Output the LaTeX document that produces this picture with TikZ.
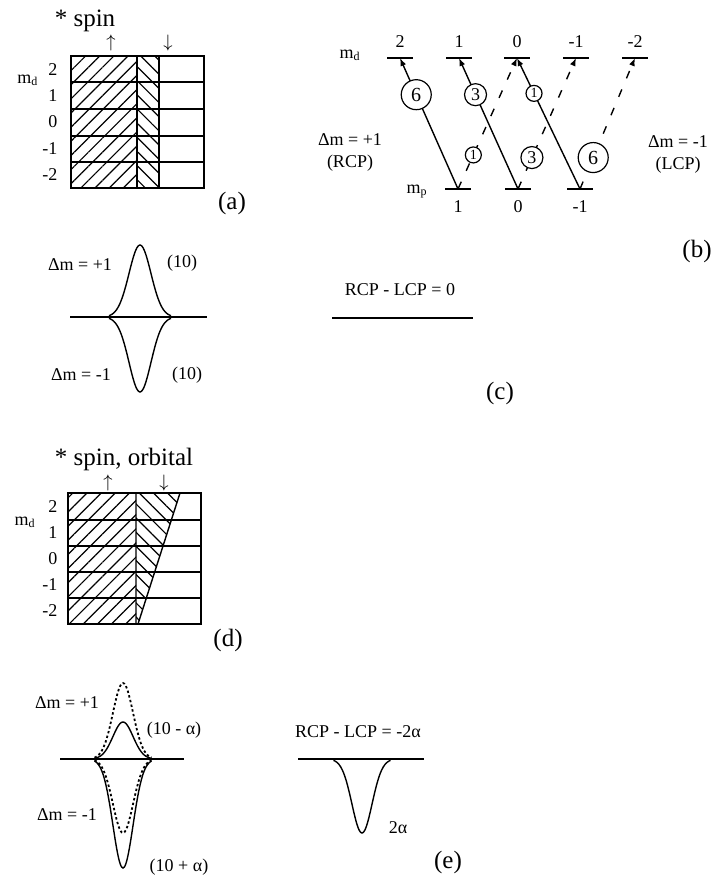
\documentclass[tikz,border=0pt]{standalone}
\usepackage{fontspec}
\setmainfont{Liberation Serif}
\usetikzlibrary{arrows.meta, positioning, patterns.meta}

\begin{document}
\begin{tikzpicture}[
    x = 0.5pt, y = -0.5pt,
    line width = 0.7pt,
    lbl/.style = {font = \fontsize{9}{11}\selectfont, inner sep = 1pt},
    ttl/.style = {font = \fontsize{12.5}{15}\selectfont, inner sep = 0pt},
    num/.style = {font = \fontsize{9}{11}\selectfont, anchor = east, inner sep = 1pt},
    lvl/.style = {minimum width = 12pt, minimum height = 0pt, inner sep = 0pt},
    upspin/.style = {pattern = {Lines[angle = 45, distance = 5pt, line width = 0.6pt]}},
    dnspin/.style = {pattern = {Lines[angle = -45, distance = 5pt, line width = 0.6pt]}},
    tr/.style = {-{Latex[length = 4pt, width = 3pt]}},
    lcp/.style = {tr, dash pattern = on 4pt off 6pt},
    ring/.style = {circle, draw, solid, fill = white, inner sep = 0pt, line width = 0.6pt},
    big/.style = {ring, minimum size = 15pt, font = \fontsize{10}{10}\selectfont},
    mid/.style = {ring, minimum size = 11pt, font = \fontsize{9}{9}\selectfont},
    small/.style = {ring, minimum size = 8pt, font = \fontsize{7}{7}\selectfont},
    dots/.style = {dash pattern = on 1.2pt off 1.2pt, line width = 0.9pt},
  ]
  \useasboundingbox (0,0) rectangle (726,877);

  % (a) spin only
  \node[ttl, anchor = base] (ta) at (85,27) {* spin};
  \node[lbl] (ua) at (111,43) {$\uparrow$};
  \node[lbl] (da) at (168,43) {$\downarrow$};
  \node[lbl] (mda) at (28,80) {m\textsubscript{d}};
  \path[upspin] (71,56) rectangle (137,188);
  \path[dnspin] (137,56) rectangle (159,188);
  \draw (71,56) rectangle (204,188);
  \foreach \y in {82,109,136,162} \draw (71,\y) -- (204,\y);
  \draw (137,56) -- (137,188) (159,56) -- (159,188);
  \foreach \m [count=\i] in {2,1,0,-1,-2}
    \node[num] (na\i) at (60,{56+26.4*(\i-0.5)}) {\m};
  \node[ttl] (pa) at (232,203) {(a)};

  % (b) transitions
  \foreach \n/\x/\m in {d2/400/2, d1/459/1, d0/517/0, dn1/576/-1, dn2/635/-2} {
    \node[lvl] (\n) at (\x,58) {};
    \node[lbl] (l\n) at (\x,42) {\m};
  }
  \foreach \n/\x/\m in {p1/458/1, p0/518/0, pn1/580/-1} {
    \node[lvl] (\n) at (\x,189) {};
    \node[lbl] (l\n) at (\x,207) {\m};
  }
  \foreach \n in {d2,d1,d0,dn1,dn2,p1,p0,pn1} \draw (\n.west) -- (\n.east);
  \node[lbl] (mdb) at (350,55) {m\textsubscript{d}};
  \node[lbl] (mpb) at (417,192) {m\textsubscript{p}};
  \draw[tr] (p1.center) -- node[big, pos = .72] {6} (d2.center);
  \draw[tr] (p0.center) -- node[mid, pos = .72] {3} (d1.center);
  \draw[tr] (pn1.center) -- node[small, pos = .73] {1} (d0.center);
  \draw[lcp] (p1.center) -- node[small, pos = .26] {1} (d0.center);
  \draw[lcp] (p0.center) -- node[mid, pos = .24] {3} (dn1.center);
  \draw[lcp] (pn1.center) -- node[big, pos = .24] {6} (dn2.center);
  \node[lbl] (rcpm) at (350,140) {Δm = +1};
  \node[lbl, below = 2pt of rcpm] (rcp) {(RCP)};
  \node[lbl] (lcpm) at (678,142) {Δm = -1};
  \node[lbl, below = 2pt of lcpm] (lcpb) {(LCP)};
  \node[ttl] (pb) at (697,251) {(b)};

  % (c) spectra, spin only
  \draw (70,317) -- (207,317);
  \draw plot[domain = -31:31, samples = 41, smooth] ({140+\x},{317-72*exp(-(\x)*(\x)/240)});
  \draw plot[domain = -31:31, samples = 41, smooth] ({140+\x},{317+75*exp(-(\x)*(\x)/240)});
  \node[lbl] (cr) at (80,265) {Δm = +1};
  \node[lbl] (crn) at (182,263) {(10)};
  \node[lbl] (cl) at (81,375) {Δm = -1};
  \node[lbl] (cln) at (187,375) {(10)};
  \node[lbl] (cd) at (400,290) {RCP - LCP = 0};
  \draw (332,318) -- (473,318);
  \node[ttl] (pc) at (500,393) {(c)};

  % (d) spin and orbital
  \node[ttl, anchor = base] (td) at (124,465) {* spin, orbital};
  \node[lbl] (ud) at (108,483) {$\uparrow$};
  \node[lbl] (dd) at (164,483) {$\downarrow$};
  \node[lbl] (mdd) at (25,522) {m\textsubscript{d}};
  \path[upspin] (68,493) rectangle (136,624);
  \path[dnspin] (136,493) -- (180,493) -- (138,624) -- (136,624) -- cycle;
  \draw (68,493) rectangle (201,624);
  \foreach \y in {520,546,572,598} \draw (68,\y) -- (201,\y);
  \draw (136,493) -- (136,624) (180,493) -- (138,624);
  \foreach \m [count=\i] in {2,1,0,-1,-2}
    \node[num] (nd\i) at (60,{493+26.2*(\i-0.5)}) {\m};
  \node[ttl] (pd) at (228,640) {(d)};

  % (e) spectra, spin and orbital
  \draw (60,759) -- (184,759);
  \draw[dots] plot[domain = -28.5:28.5, samples = 41, smooth] ({123+\x},{759-76*exp(-(\x)*(\x)/203)});
  \draw plot[domain = -28.5:28.5, samples = 41, smooth] ({123+\x},{759-37*exp(-(\x)*(\x)/203)});
  \draw[dots] plot[domain = -28.5:28.5, samples = 41, smooth] ({123+\x},{759+74*exp(-(\x)*(\x)/203)});
  \draw plot[domain = -28.5:28.5, samples = 41, smooth] ({123+\x},{759+109*exp(-(\x)*(\x)/203)});
  \node[lbl] (er) at (67,703) {Δm = +1};
  \node[lbl] (ern) at (174,730) {(10 - α)};
  \node[lbl] (el) at (67,815) {Δm = -1};
  \node[lbl] (eln) at (179,867) {(10 + α)};
  \draw (298,759) -- (424,759);
  \draw plot[domain = -28.5:28.5, samples = 41, smooth] ({362+\x},{759+74*exp(-(\x)*(\x)/203)});
  \node[lbl] (ed) at (358,732) {RCP - LCP = -2α};
  \node[lbl] (edv) at (398,828) {2α};
  \node[ttl] (pe) at (448,862) {(e)};
\end{tikzpicture}
\end{document}
